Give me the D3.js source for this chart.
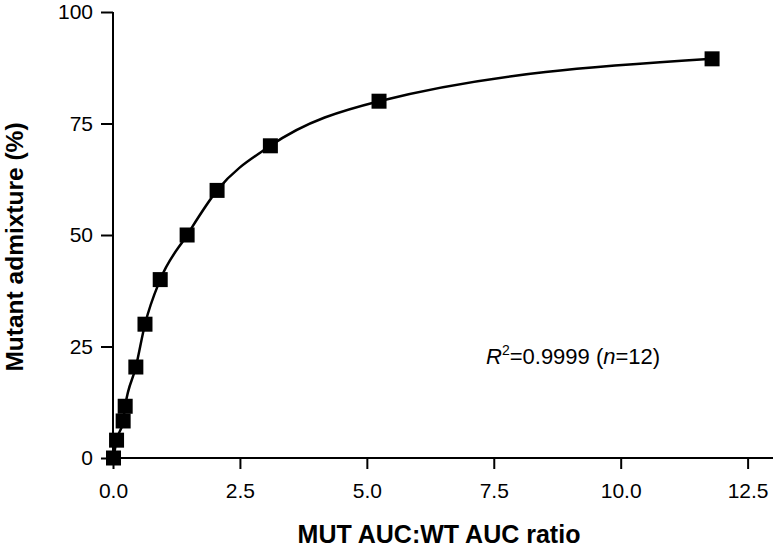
<!DOCTYPE html>
<html>
<head>
<meta charset="utf-8">
<script src="https://cdn.jsdelivr.net/npm/d3@7/dist/d3.min.js"></script>
<style>
  body { margin: 0; background: #fff; }
  svg { display: block; }
</style>
</head>
<body>
<div id="chart"></div>
<script>
const width = 773;
const height = 552;
const fontFamily = "Liberation Sans, Arial, Helvetica, sans-serif";

// Data
const ratio = [0.01, 0.07, 0.2, 0.24, 0.45, 0.63, 0.93, 1.46, 2.05, 3.1, 5.24, 11.8];
const admixture = [0, 4, 8.3, 11.6, 20.4, 30, 40, 50, 60, 70, 80, 89.5];
const xTicks = [0, 2.5, 5, 7.5, 10, 12.5];
const yTicks = [0, 25, 50, 75, 100];

const points = ratio.map((r, i) => ({ x: r, y: admixture[i] }));

const svg = d3.select("#chart")
  .append("svg")
  .attr("width", width)
  .attr("height", height);

// Scales
const x = d3.scaleLinear().domain([0, 13]).range([113, 773]);
const y = d3.scaleLinear().domain([0, 100]).range([458, 12]);

// Axes
const xAxis = svg.append("g")
  .attr("transform", `translate(0,${y(0)})`)
  .call(d3.axisBottom(x).tickValues(xTicks).tickFormat(d3.format(".1f")).tickSize(11).tickPadding(14));

const yAxis = svg.append("g")
  .attr("transform", `translate(${x(0)},0)`)
  .call(d3.axisLeft(y).tickValues(yTicks).tickSize(12).tickPadding(8));

[xAxis, yAxis].forEach(g => {
  g.select(".domain").remove();
  g.selectAll(".tick line").attr("stroke", "#000").attr("stroke-width", 2);
  g.selectAll(".tick text")
    .attr("fill", "#000")
    .attr("font-family", fontFamily)
    .attr("font-size", "21px");
});

// Axis lines
svg.append("line")
  .attr("x1", x(0)).attr("x2", x(13))
  .attr("y1", y(0)).attr("y2", y(0))
  .attr("stroke", "#000").attr("stroke-width", 2);

svg.append("line")
  .attr("x1", x(0)).attr("x2", x(0))
  .attr("y1", y(100)).attr("y2", y(0))
  .attr("stroke", "#000").attr("stroke-width", 2);

// Fitted curve through points
const line = d3.line()
  .x(d => x(d.x))
  .y(d => y(d.y))
  .curve(d3.curveMonotoneX);

svg.append("path")
  .datum(points)
  .attr("d", line)
  .attr("fill", "none")
  .attr("stroke", "#000")
  .attr("stroke-width", 2.5);

// Square markers
const size = 15;
svg.append("g")
  .selectAll("rect")
  .data(points)
  .enter()
  .append("rect")
  .attr("x", d => x(d.x) - size / 2)
  .attr("y", d => y(d.y) - size / 2)
  .attr("width", size)
  .attr("height", size)
  .attr("fill", "#000");

// Axis titles
svg.append("text")
  .attr("x", 439)
  .attr("y", 543)
  .attr("text-anchor", "middle")
  .attr("font-family", fontFamily)
  .attr("font-weight", "bold")
  .attr("font-size", "25px")
  .text("MUT AUC:WT AUC ratio");

svg.append("text")
  .attr("transform", "translate(23,247) rotate(-90)")
  .attr("text-anchor", "middle")
  .attr("font-family", fontFamily)
  .attr("font-weight", "bold")
  .attr("font-size", "24.5px")
  .text("Mutant admixture (%)");

// Annotation
const note = svg.append("text")
  .attr("x", 486)
  .attr("y", 364)
  .attr("font-family", fontFamily)
  .attr("font-size", "22px")
  .attr("fill", "#000");
note.append("tspan").attr("font-style", "italic").text("R");
note.append("tspan").attr("font-size", "14px").attr("dy", -9).text("2");
note.append("tspan").attr("dy", 9).text("=0.9999 (");
note.append("tspan").attr("font-style", "italic").text("n");
note.append("tspan").text("=12)");
</script>
</body>
</html>
